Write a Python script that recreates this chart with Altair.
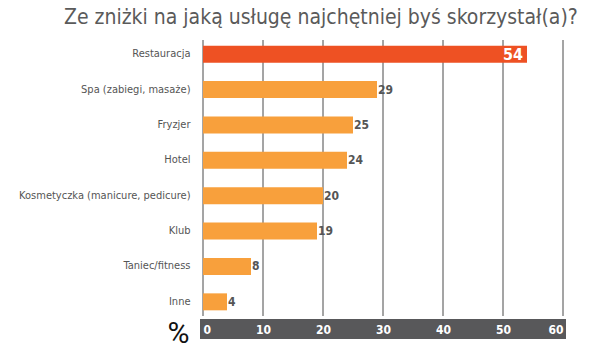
import altair as alt
import pandas as pd

categories = ["Restauracja", "Spa (zabiegi, masaże)", "Fryzjer", "Hotel",
              "Kosmetyczka (manicure, pedicure)", "Klub", "Taniec/fitness", "Inne"]
values = [54, 29, 25, 24, 20, 19, 8, 4]
highlight = [True, False, False, False, False, False, False, False]
ticks = [0, 10, 20, 30, 40, 50, 60]

df = pd.DataFrame({"cat": categories, "val": values, "hl": highlight})
df_out = df[~df["hl"]]
df_in = df[df["hl"]]
tick_df = pd.DataFrame({"t": ticks})

FONT = "'DejaVu Sans Condensed', 'Liberation Sans Narrow', Roboto, sans-serif"
W, H = 360, 276

xscale = alt.Scale(domain=[0, 60], nice=False, zero=True)
yscale = alt.Scale(domain=categories, paddingInner=0.52, paddingOuter=0.16)

band = alt.Chart(tick_df).mark_rect(color="#58585a").encode(
    x=alt.value(-3), x2=alt.value(363), y=alt.value(H + 3), y2=alt.value(H + 23)
)

grid = alt.Chart(tick_df).mark_rule(color="#4a4a4a", strokeWidth=1).encode(
    x=alt.X("t:Q", scale=xscale,
            axis=alt.Axis(values=ticks, domain=False, ticks=False, grid=False,
                          labelColor="white", labelFont=FONT, labelFontWeight="bold",
                          labelFontSize=12, labelFlush=True, labelPadding=13,
                          labelBaseline="middle", zindex=1,
                          title="%", titleX=-25, titleY=17, titleAngle=0,
                          titleAlign="center", titleBaseline="middle",
                          titleFontSize=30, titleFontWeight="normal",
                          titleColor="#111111", titleFont="Roboto"))
)

bars = alt.Chart(df).mark_bar().encode(
    y=alt.Y("cat:N", scale=yscale, sort=categories,
            axis=alt.Axis(domain=False, ticks=False, grid=False, title=None,
                          labelFont=FONT, labelFontSize=11, labelColor="#555555",
                          labelPadding=13)),
    x=alt.X("val:Q", scale=xscale),
    color=alt.Color("hl:N", scale=alt.Scale(domain=[True, False],
                                            range=["#ee5123", "#f8a03c"]), legend=None),
)

lab_out = alt.Chart(df_out).mark_text(align="left", baseline="middle", dx=1,
                                      font=FONT, fontSize=12, fontWeight="bold",
                                      color="#555555").encode(
    y=alt.Y("cat:N", scale=yscale, sort=categories),
    x=alt.X("val:Q", scale=xscale),
    text="val:Q",
)

lab_in = alt.Chart(df_in).mark_text(align="right", baseline="middle", dx=-4, dy=1,
                                    font=FONT, fontSize=16, fontWeight="bold",
                                    color="white").encode(
    y=alt.Y("cat:N", scale=yscale, sort=categories),
    x=alt.X("val:Q", scale=xscale),
    text="val:Q",
)

chart = alt.layer(band, grid, bars, lab_out, lab_in).properties(
    width=W, height=H,
    title=alt.TitleParams("Ze zniżki na jaką usługę najchętniej byś skorzystał(a)?",
                          anchor="start", frame="group", dx=-139, offset=12,
                          fontSize=21, font=FONT, fontWeight="normal",
                          color="#5a5a5a"),
    autosize=alt.AutoSizeParams(type="none"),
    padding={"left": 195, "top": 32, "right": 30, "bottom": 37},
).configure_view(stroke=None)

chart.save("out.html", embed_options={"renderer": "svg", "actions": False})
